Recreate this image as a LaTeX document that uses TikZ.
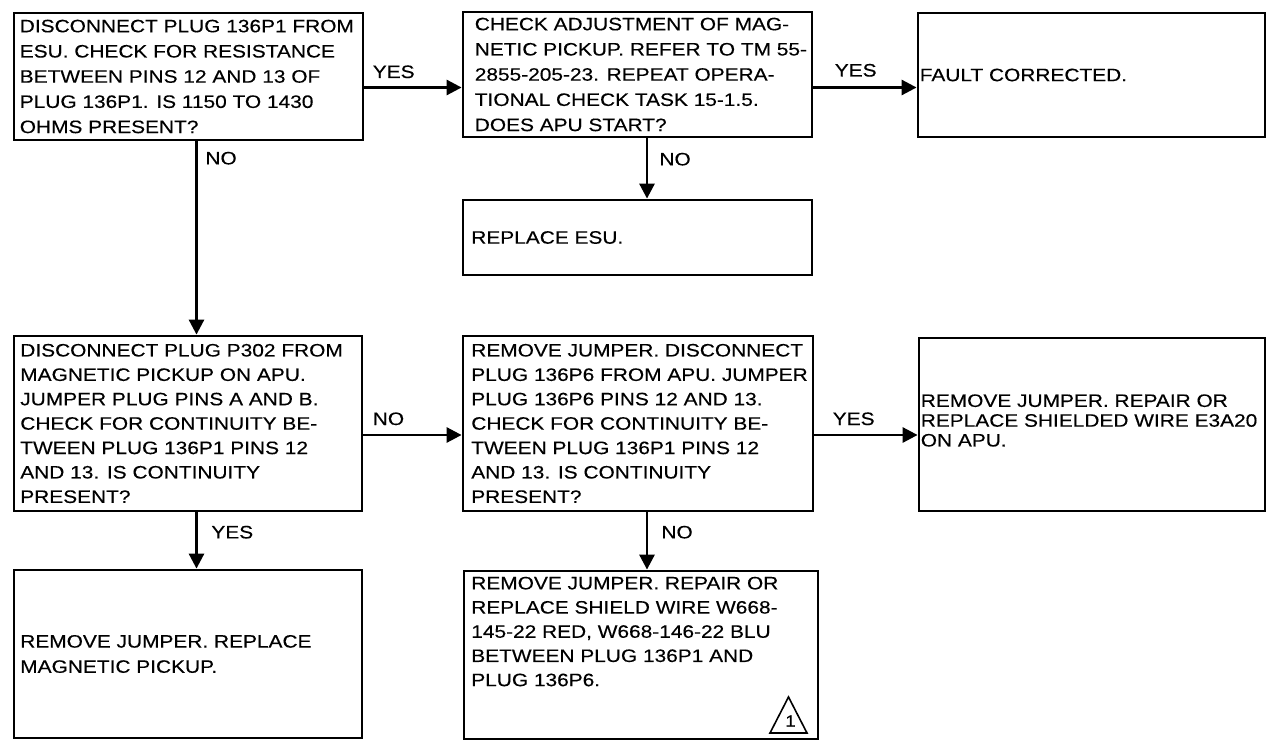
\documentclass[tikz,border=0pt]{standalone}
\usepackage{fontspec}
\setmainfont{Liberation Sans}[FakeStretch=1.16,FakeBold=0.3]
\usetikzlibrary{arrows.meta}
\tikzset{
  box/.style={draw, line width=2.8pt, rectangle, inner sep=0pt},
  txt/.style={inner sep=0pt, align=left, anchor=west, font=\fontsize{18}{25.2}\selectfont},
  conn/.style={line width=2.8pt, -{Triangle[length=15pt,width=15pt]}},
  lbl/.style={inner sep=0pt, anchor=base west, font=\fontsize{18}{20}\selectfont},
}
\begin{document}
\begin{tikzpicture}[x=1pt,y=-1pt]
\useasboundingbox (0,0) rectangle (1267,741);

% boxes
\node[box, minimum width=349pt, minimum height=127pt] (b1) at (188.5,76.5) {};
\node[box, minimum width=349pt, minimum height=125pt] (b2) at (637.5,74.5) {};
\node[box, minimum width=347pt, minimum height=124pt] (b3) at (1091.5,75) {};
\node[box, minimum width=349pt, minimum height=75pt] (esu) at (637.5,237.5) {};
\node[box, minimum width=348pt, minimum height=175pt] (b4) at (188,423.5) {};
\node[box, minimum width=350pt, minimum height=175pt] (b5) at (638,423.5) {};
\node[box, minimum width=346pt, minimum height=173pt] (b6) at (1092,424.5) {};
\node[box, minimum width=348pt, minimum height=168pt] (b7) at (188,654) {};
\node[box, minimum width=354pt, minimum height=168pt] (b8) at (641,655) {};

% texts
\node[txt] (t1) at ([xshift=7pt]b1.west) {DISCONNECT PLUG 136P1 FROM\\ESU. CHECK FOR RESISTANCE\\BETWEEN PINS 12 AND 13 OF\\PLUG 136P1. IS 1150 TO 1430\\OHMS PRESENT?};
\node[txt] (t2) at ([xshift=13pt]b2.west) {CHECK ADJUSTMENT OF MAG-\\NETIC PICKUP. REFER TO TM 55-\\2855-205-23. REPEAT OPERA-\\TIONAL CHECK TASK 15-1.5.\\DOES APU START?};
\node[txt] (t3) at ([xshift=3pt]b3.west) {FAULT CORRECTED.};
\node[txt] (tesu) at ([xshift=9.5pt]esu.west) {REPLACE ESU.};
\node[txt, font=\fontsize{18}{24.4}\selectfont] (t4) at ([xshift=7.5pt]b4.west) {DISCONNECT PLUG P302 FROM\\MAGNETIC PICKUP ON APU.\\JUMPER PLUG PINS A AND B.\\CHECK FOR CONTINUITY BE-\\TWEEN PLUG 136P1 PINS 12\\AND 13. IS CONTINUITY\\PRESENT?};
\node[txt, font=\fontsize{18}{24.4}\selectfont] (t5) at ([xshift=9.5pt]b5.west) {REMOVE JUMPER. DISCONNECT\\PLUG 136P6 FROM APU. JUMPER\\PLUG 136P6 PINS 12 AND 13.\\CHECK FOR CONTINUITY BE-\\TWEEN PLUG 136P1 PINS 12\\AND 13. IS CONTINUITY\\PRESENT?};
\node[txt, font=\fontsize{18}{19.8}\selectfont] (t6) at ([xshift=3pt,yshift=4pt]b6.west) {REMOVE JUMPER. REPAIR OR\\REPLACE SHIELDED WIRE E3A20\\ON APU.};
\node[txt] (t7) at ([xshift=7.5pt]b7.west) {REMOVE JUMPER. REPLACE\\MAGNETIC PICKUP.};
\node[txt, anchor=north west, font=\fontsize{18}{24.2}\selectfont] (t8) at ([xshift=8.5pt,yshift=-7pt]b8.north west) {REMOVE JUMPER. REPAIR OR\\REPLACE SHIELD WIRE W668-\\145-22 RED, W668-146-22 BLU\\BETWEEN PLUG 136P1 AND\\PLUG 136P6.};

% note triangle
\draw[line width=1.6pt, line join=miter] (788.5,697) -- (807,733) -- (770,733) -- cycle;
\node[inner sep=0pt, font=\fontsize{16}{18}\selectfont] (n1) at (790.5,721) {1};

% routing coordinates
\coordinate (r1) at (0,87.5);
\coordinate (r2) at (0,435);
\coordinate (c1) at (196.5,0);
\coordinate (c2) at (647,0);

% connectors
\draw[conn] (b1.east |- r1) -- node[lbl, pos=0, xshift=7pt, yshift=9.5pt] {YES} (b2.west |- r1);
\draw[conn] (b2.east |- r1) -- node[lbl, pos=0, xshift=20pt, yshift=11pt] {YES} (b3.west |- r1);
\draw[conn] (b1.south -| c1) -- node[lbl, pos=0, xshift=7.5pt, yshift=-23pt] {NO} (b4.north -| c1);
\draw[conn] (b2.south -| c2) -- node[lbl, pos=0, xshift=11pt, yshift=-27pt] {NO} (esu.north -| c2);
\draw[conn] (b4.east |- r2) -- node[lbl, pos=0, xshift=8pt, yshift=10pt] {NO} (b5.west |- r2);
\draw[conn] (b5.east |- r2) -- node[lbl, pos=0, xshift=17pt, yshift=10pt] {YES} (b6.west |- r2);
\draw[conn] (b4.south -| c1) -- node[lbl, pos=0, xshift=13.5pt, yshift=-26pt] {YES} (b7.north -| c1);
\draw[conn] (b5.south -| c2) -- node[lbl, pos=0, xshift=13pt, yshift=-26pt] {NO} (b8.north -| c2);
\end{tikzpicture}
\end{document}
